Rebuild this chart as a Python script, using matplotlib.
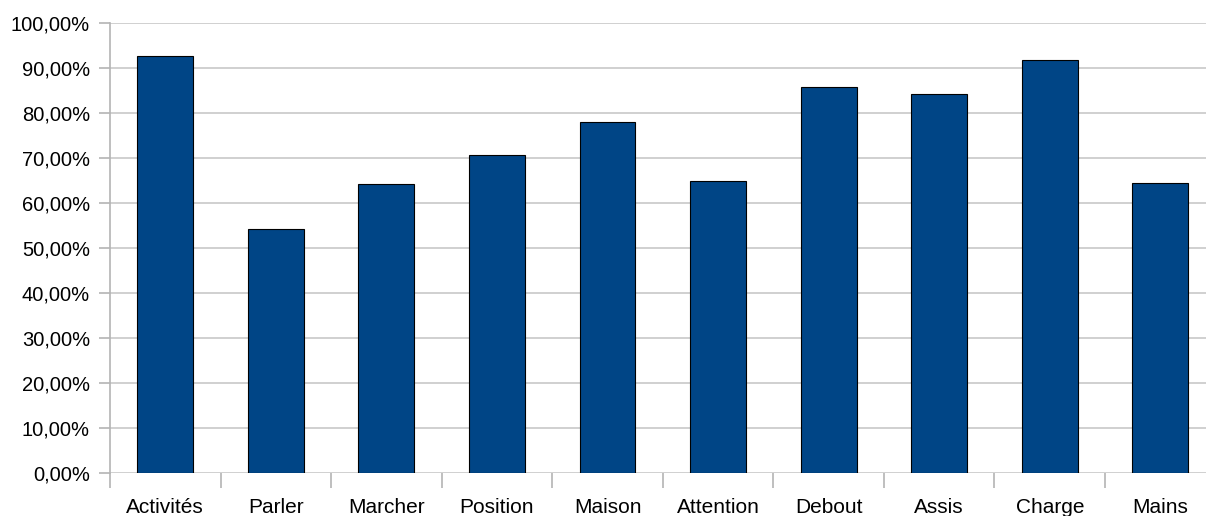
import matplotlib
matplotlib.use("Agg")
import matplotlib.pyplot as plt
from matplotlib.ticker import FuncFormatter, MultipleLocator, FixedLocator
import numpy as np

categories = ["Activités", "Parler", "Marcher", "Position", "Maison",
              "Attention", "Debout", "Assis", "Charge", "Mains"]
values = [92.7, 54.2, 64.2, 70.6, 77.9, 64.9, 85.8, 84.1, 91.7, 64.5]

W, H = 1206, 516
fig = plt.figure(figsize=(W / 100, H / 100), dpi=100)
plt.rcParams['font.family'] = ['Liberation Sans', 'DejaVu Sans']

left, right = 110, 1215.6
top, bottom = 22.7, 473.3
ax = fig.add_axes([left / W, 1 - bottom / H, (right - left) / W, (bottom - top) / H])

x = np.arange(len(categories))
ax.bar(x, values, width=0.505, color="#004586", edgecolor="black", linewidth=0.8, zorder=3)

ax.set_xlim(-0.5, len(categories) - 0.5)
ax.set_ylim(0, 100)
ax.yaxis.set_major_locator(MultipleLocator(10))
ax.yaxis.set_major_formatter(FuncFormatter(lambda v, p: f"{v:.2f}%".replace(".", ",")))
ax.grid(axis="y", color="#c8c8c8", linewidth=1.2, zorder=0)

for s in ["top", "right", "bottom"]:
    ax.spines[s].set_visible(False)
ax.spines["left"].set_color("#b4b4b4")
ax.spines["left"].set_linewidth(1.2)

ax.set_xticks(x)
ax.set_xticklabels(categories)
ax.tick_params(axis="x", length=0, labelsize=15, pad=17.5, colors="black")
ax.xaxis.set_minor_locator(FixedLocator(np.arange(-0.5, len(categories), 1.0)))
ax.tick_params(axis="x", which="minor", length=11, width=1.2, color="#b4b4b4")
ax.tick_params(axis="y", length=8, width=1.2, color="#b4b4b4", labelsize=14.5, pad=6.5)

fig.savefig("out.png", dpi=100)
